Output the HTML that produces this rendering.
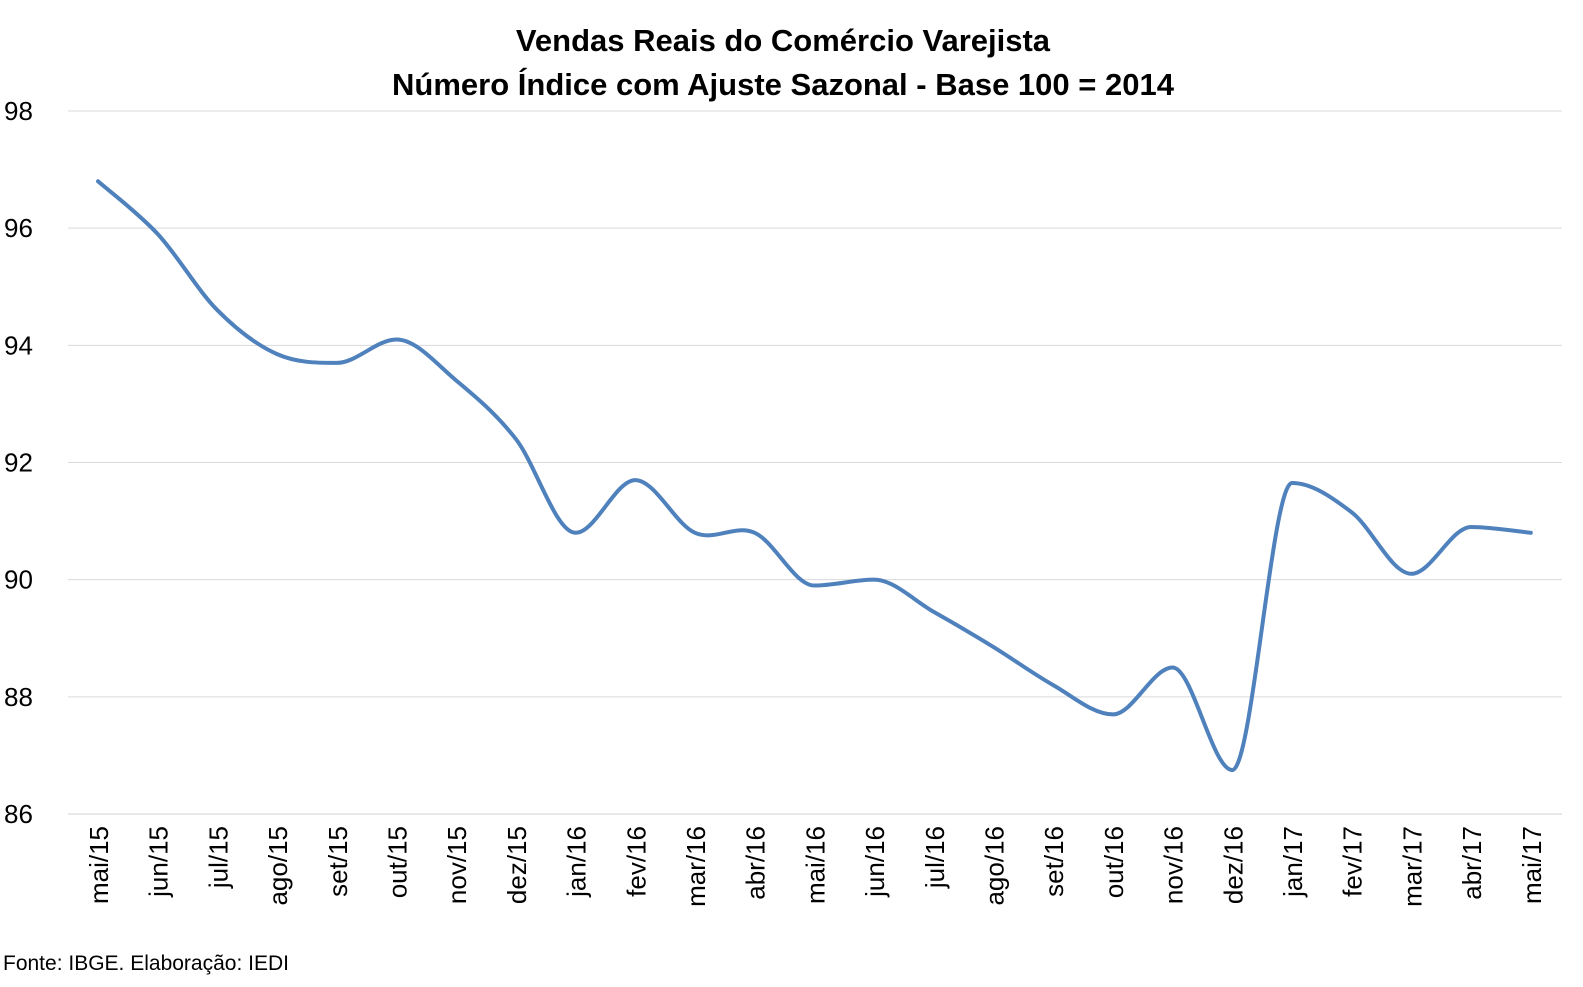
<!DOCTYPE html>
<html><head><meta charset="utf-8"><style>
html,body{margin:0;padding:0;background:#fff;}
svg{display:block;font-family:"Liberation Sans","DejaVu Sans",sans-serif;}
</style></head><body>
<svg id="s" width="1583" height="987" xmlns="http://www.w3.org/2000/svg">
<text x="783" y="51" text-anchor="middle" font-size="31" font-weight="bold" fill="#000">Vendas Reais do Comércio Varejista</text>
<text x="783" y="95" text-anchor="middle" font-size="31" font-weight="bold" fill="#000">Número Índice com Ajuste Sazonal - Base 100 = 2014</text>
<g id="grid"></g>
<g id="xl"></g>
<path id="line" fill="none" stroke="#4F81BD" stroke-width="4" stroke-linejoin="round" stroke-linecap="round"/>
<text x="3" y="970" font-size="21" fill="#000">Fonte: IBGE. Elaboração: IEDI</text>
</svg>
<script>
var ns="http://www.w3.org/2000/svg";
function Y(v){return 814-(v-86)*(703/12);}
function X(i){return 98+59.7*i;}
var g=document.getElementById('grid');
for(var v=86;v<=98;v+=2){
 var y=Y(v);
 var l=document.createElementNS(ns,'line');
 l.setAttribute('x1',68);l.setAttribute('x2',1562);l.setAttribute('y1',y);l.setAttribute('y2',y);
 l.setAttribute('stroke',v==86?'#d0d0d0':'#d9d9d9');l.setAttribute('stroke-width',1);
 g.appendChild(l);
 var t=document.createElementNS(ns,'text');
 t.setAttribute('x',4);t.setAttribute('y',y+9);t.setAttribute('font-size',26);t.textContent=v;
 g.appendChild(t);
}
var labs=["mai/15","jun/15","jul/15","ago/15","set/15","out/15","nov/15","dez/15","jan/16","fev/16","mar/16","abr/16","mai/16","jun/16","jul/16","ago/16","set/16","out/16","nov/16","dez/16","jan/17","fev/17","mar/17","abr/17","mai/17"];
var xl=document.getElementById('xl');
labs.forEach(function(s,i){
 var t=document.createElementNS(ns,'text');
 var x=X(i)+10,y=826;
 t.setAttribute('x',x);t.setAttribute('y',y);t.setAttribute('font-size',26);
 t.setAttribute('text-anchor','end');
 t.setAttribute('transform','rotate(-90 '+x+' '+y+')');
 t.textContent=s;xl.appendChild(t);
});
var d=[96.8,95.9,94.6,93.85,93.7,94.1,93.4,92.4,90.8,91.7,90.8,90.8,89.9,90.0,89.45,88.85,88.2,87.7,88.5,86.75,91.65,91.15,90.1,90.9,90.8];
var p=d.map(function(v,i){return [X(i),Y(v)];});
function tan(i){
 var a=p[i-1]||p[i],b=p[i+1]||p[i];
 var ty=(b[1]-a[1])/6, tx=(b[0]-a[0])/6;
 if(p[i-1]&&p[i+1]&&(p[i][1]-a[1])*(b[1]-p[i][1])<0) ty=0;
 return [tx,ty];
}
var s="M"+p[0][0]+","+p[0][1];
for(var i=0;i<p.length-1;i++){
 var t1=tan(i),t2=tan(i+1);
 s+=" C"+(p[i][0]+t1[0])+","+(p[i][1]+t1[1])+" "+(p[i+1][0]-t2[0])+","+(p[i+1][1]-t2[1])+" "+p[i+1][0]+","+p[i+1][1];
}
document.getElementById('line').setAttribute('d',s);
</script>
</body></html>
